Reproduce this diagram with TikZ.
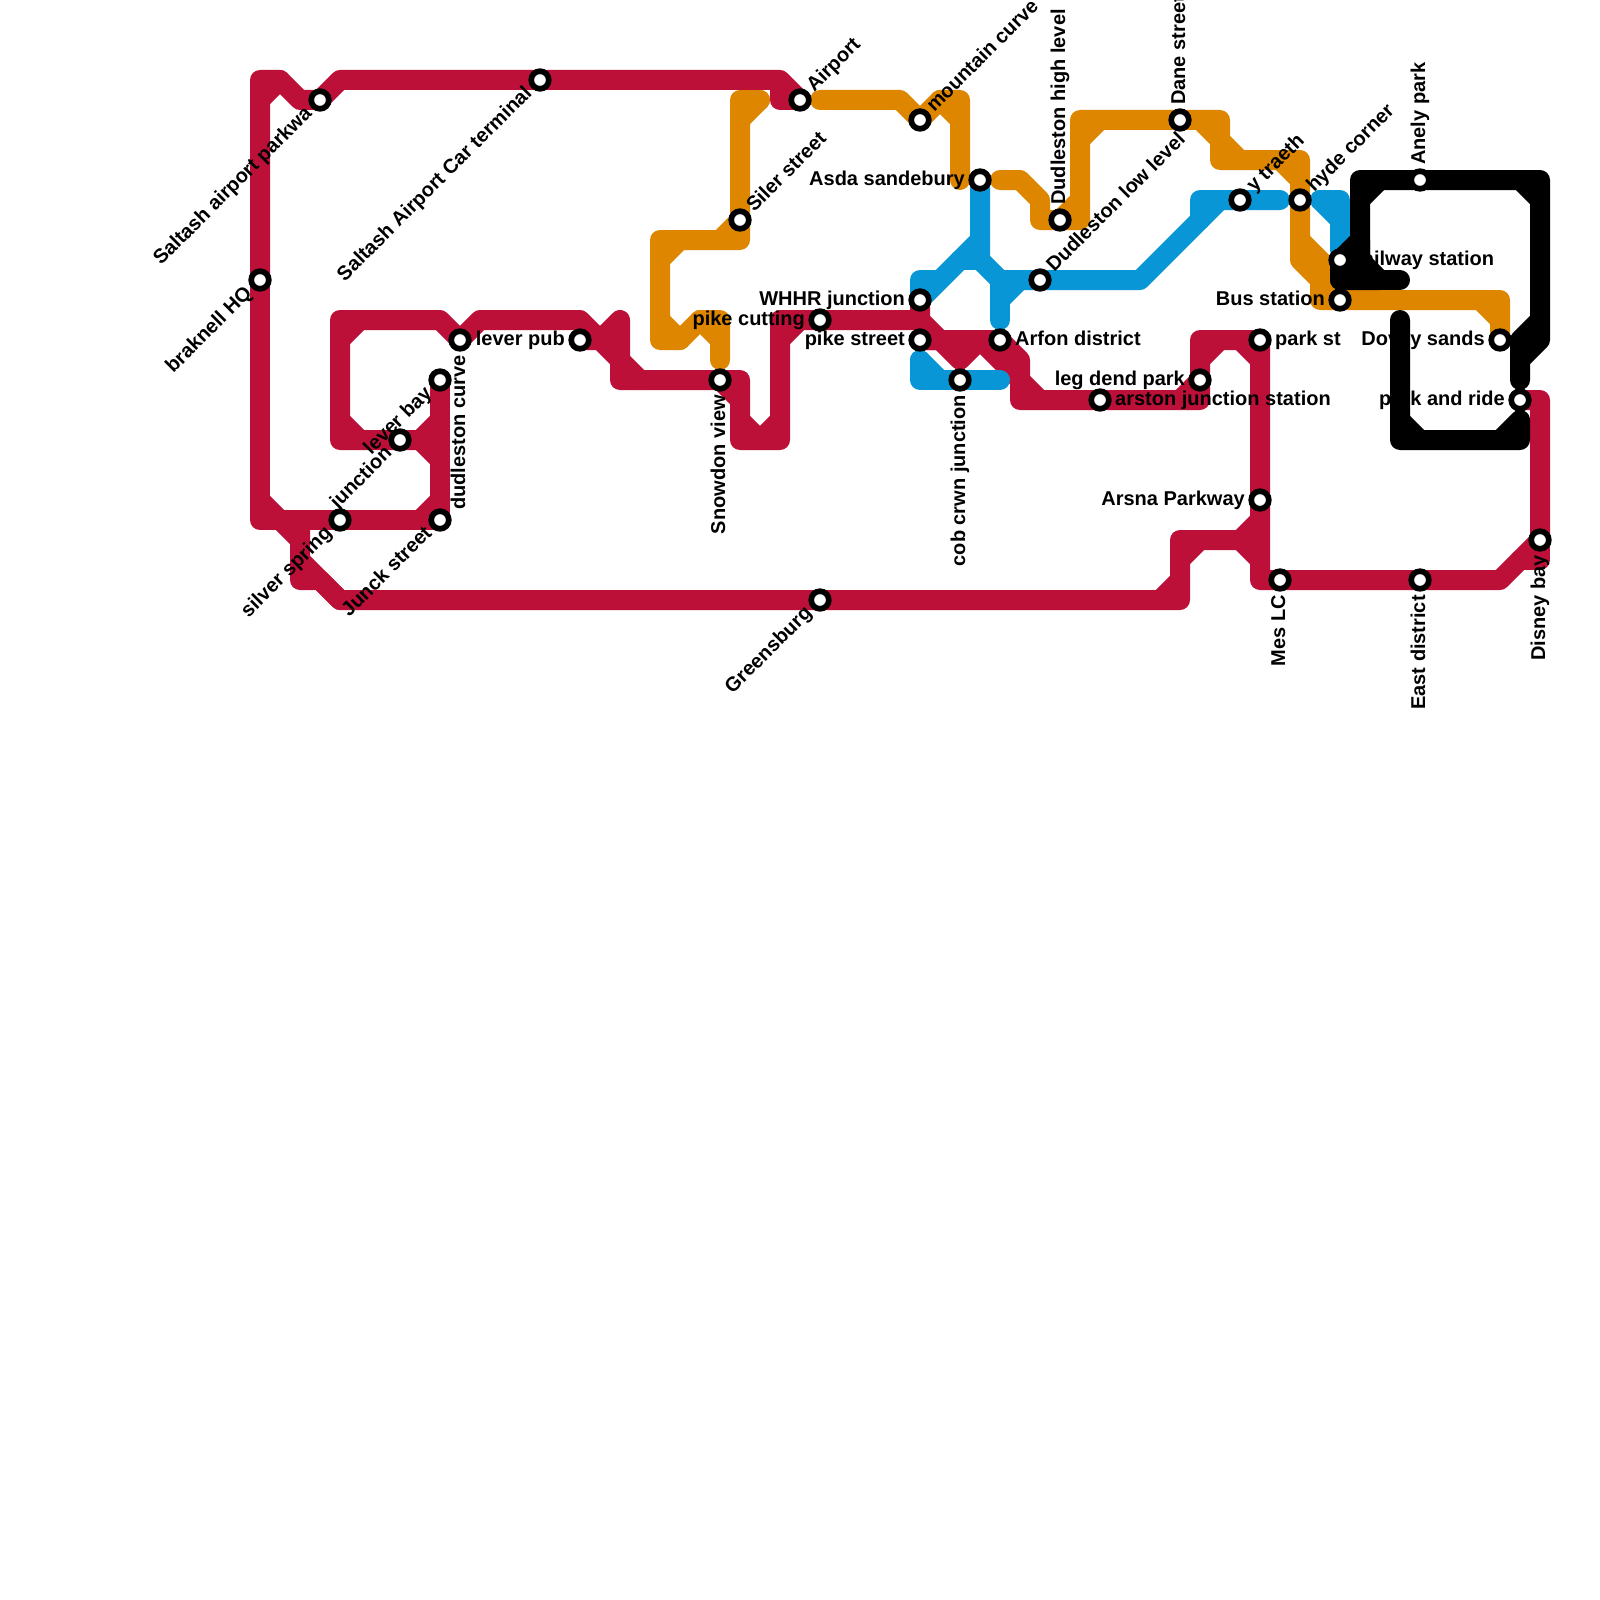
\documentclass[tikz,border=0pt]{standalone}
\usepackage{fontspec}
\setmainfont{Liberation Sans}
\usetikzlibrary{calc}
\definecolor{mred}{HTML}{BD1038}
\definecolor{morange}{HTML}{DF8600}
\definecolor{mblue}{HTML}{0896D7}
\pgfdeclarelayer{fg}
\pgfdeclarelayer{txt}
\pgfsetlayers{main,fg,txt}
\tikzset{
  metro/.style={line width=20pt,line cap=round,line join=round},
  redline/.style={metro,draw=mred},
  orangeline/.style={metro,draw=morange},
  blueline/.style={metro,draw=mblue},
  blackline/.style={metro,draw=black},
  station/.style={circle,draw=black,fill=white,line width=5.7pt,minimum size=17.6pt,inner sep=0pt},
  lbl/.style={font=\fontsize{20}{22}\selectfont\bfseries,inner sep=0pt,text=black}
}
% name, x, y, angle, text : label after the station / before the station
\newcommand{\stA}[5]{%
  \begin{pgfonlayer}{fg}\node[station] (#1) at (#2,#3) {};\end{pgfonlayer}%
  \begin{pgfonlayer}{txt}\node[lbl,rotate=#4,anchor=base west] (l#1) at ($(#1.center)+(#4:15pt)+(#4-90:5pt)$) {#5};\end{pgfonlayer}}
\newcommand{\stB}[5]{%
  \begin{pgfonlayer}{fg}\node[station] (#1) at (#2,#3) {};\end{pgfonlayer}%
  \begin{pgfonlayer}{txt}\node[lbl,rotate=#4,anchor=base east] (l#1) at ($(#1.center)+(#4:-15pt)+(#4-90:5pt)$) {#5};\end{pgfonlayer}}
\begin{document}
\begin{tikzpicture}[x=1pt,y=-1pt]
\fill[white] (0,0) rectangle (1600,1600);
\useasboundingbox (0,0) rectangle (1600,1600);
% stations
\stB{sap}{320}{100}{45}{Saltash airport parkwa}
\stB{sact}{540}{80}{45}{Saltash Airport Car terminal}
\stB{brak}{260}{280}{45}{braknell HQ}
\stB{silv}{340}{520}{45}{silver spring}
\stB{lbay}{440}{380}{45}{lever bay}
\stB{junc}{400}{440}{45}{junction}
\stB{junk}{440}{520}{45}{Junck street}
\stB{dcur}{460}{340}{90}{dudleston curve}
\stB{lpub}{580}{340}{0}{lever pub}
\stB{snow}{720}{380}{90}{Snowdon view}
\stA{sile}{740}{220}{45}{Siler street}
\stA{airp}{800}{100}{45}{Airport}
\stA{moun}{920}{120}{45}{mountain curve}
\stB{gree}{820}{600}{45}{Greensburg}
\stB{pcut}{820}{320}{0}{pike cutting}
\stB{whhr}{920}{300}{0}{WHHR junction}
\stB{pstr}{920}{340}{0}{pike street}
\stB{cobc}{960}{380}{90}{cob crwn junction}
\stB{asda}{980}{180}{0}{Asda sandebury}
\stA{dhig}{1060}{220}{90}{Dudleston high level}
\stA{dlow}{1040}{280}{45}{Dudleston low level}
\stA{arfo}{1000}{340}{0}{Arfon district}
\stA{dane}{1180}{120}{90}{Dane street}
\stB{legd}{1200}{380}{0}{leg dend park}
\stA{arst}{1100}{400}{0}{arston junction station}
\stA{ytra}{1240}{200}{45}{y traeth}
\stA{hyde}{1300}{200}{45}{hyde corner}
\stA{anel}{1420}{180}{90}{Anely park}
\stA{rail}{1340}{260}{0}{railway station}
\stB{buss}{1340}{300}{0}{Bus station}
\stA{pkst}{1260}{340}{0}{park st}
\stB{arsn}{1260}{500}{0}{Arsna Parkway}
\stB{mesl}{1280}{580}{90}{Mes LC}
\stB{east}{1420}{580}{90}{East district}
\stB{dovy}{1500}{340}{0}{Dovey sands}
\stB{prid}{1520}{400}{0}{park and ride}
\stB{disn}{1540}{540}{90}{Disney bay}
% orange
\draw[orangeline] (760,100) -- (740,100) -- (sile.center) -- (740,240) -- (660,240) -- (660,340) -- (680,340) -- (700,320) -- (720,320) -- (720,360);
\draw[orangeline] (740,120) -- (760,100);
\draw[orangeline] (720,240) -- (sile.center);
\draw[orangeline] (660,260) -- (680,240);
\draw[orangeline] (660,320) -- (680,340);
\draw[orangeline] (700,320) -- (720,340);
\draw[orangeline] (820,100) -- (900,100) -- (moun.center) -- (940,100) -- (960,100) -- (960,180);
\draw[orangeline] (940,100) -- (960,120);
\draw[orangeline] (1000,180) -- (1020,180) -- (1040,200) -- (1040,220) -- (dhig.center) -- (1080,220) -- (1080,120) -- (dane.center) -- (1220,120) -- (1220,160) -- (1300,160) -- (hyde.center) -- (1300,260) -- (1320,280) -- (1320,300) -- (buss.center) -- (1500,300) -- (dovy.center);
\draw[orangeline] (1060,220) -- (1080,200);
\draw[orangeline] (1080,140) -- (1100,120);
\draw[orangeline] (1200,120) -- (1240,160);
\draw[orangeline] (1280,160) -- (1300,180);
\draw[orangeline] (1300,240) -- (1340,280) -- (1340,300);
\draw[orangeline] (1480,300) -- (1500,320);
% red
\draw[redline] (260,100) -- (280,80);
\draw[redline] (brak.center) -- (260,80) -- (280,80) -- (300,100) -- (sap.center) -- (340,80) -- (sact.center) -- (780,80) -- (airp.center) -- (780,100) -- (780,80);
\draw[redline] (brak.center) -- (260,520) -- (silv.center) -- (junk.center) -- (lbay.center);
\draw[redline] (260,500) -- (280,520) -- (300,540);
\draw[redline] (420,520) -- (440,500);
\draw[redline] (300,520) -- (300,580) -- (320,580) -- (340,600) -- (gree.center) -- (1180,600) -- (1180,540) -- (1240,540) -- (1260,520);
\draw[redline] (300,560) -- (340,600);
\draw[redline] (1160,600) -- (1180,580);
\draw[redline] (1180,560) -- (1200,540);
\draw[redline] (1240,540) -- (1260,560);
\draw[redline] (pkst.center) -- (arsn.center) -- (1260,580) -- (mesl.center) -- (east.center) -- (1500,580) -- (disn.center) -- (1540,400) -- (prid.center);
\draw[redline] (disn.center) -- (1540,560) -- (1520,560);
\draw[redline] (pkst.center) -- (1200,340) -- (1200,400) -- (arst.center) -- (1020,400) -- (1020,360) -- (arfo.center) -- (pstr.center);
\draw[redline] (1200,360) -- (1220,340);
\draw[redline] (1240,340) -- (1260,360);
\draw[redline] (1180,400) -- (legd.center);
\draw[redline] (1020,380) -- (1040,400);
\draw[redline] (980,340) -- (1020,380);
\draw[redline] (940,340) -- (960,360) -- (980,340);
\draw[redline] (pstr.center) -- (940,340) -- (920,320) -- (whhr.center) -- (920,320) -- (pcut.center) -- (780,320) -- (780,440) -- (740,440) -- (740,380) -- (snow.center) -- (620,380) -- (620,320) -- (600,340) -- (580,320) -- (480,320) -- (dcur.center) -- (440,320) -- (340,320) -- (340,440) -- (junc.center) -- (440,440);
\draw[redline] (780,340) -- (800,320);
\draw[redline] (740,420) -- (760,440) -- (780,420);
\draw[redline] (720,380) -- (740,400);
\draw[redline] (lpub.center) -- (600,340) -- (640,380);
\draw[redline] (340,340) -- (360,320);
\draw[redline] (340,420) -- (360,440);
\draw[redline] (420,440) -- (440,420);
\draw[redline] (420,440) -- (440,460);
% blue
\draw[blueline] (asda.center) -- (980,260) -- (1000,280) -- (dlow.center) -- (1140,280) -- (1200,220) -- (1200,200) -- (ytra.center) -- (1280,200);
\draw[blueline] (980,240) -- (whhr.center) -- (920,280) -- (940,280);
\draw[blueline] (960,260) -- (980,260);
\draw[blueline] (1000,280) -- (1000,320);
\draw[blueline] (1000,300) -- (1020,280);
\draw[blueline] (1200,220) -- (1220,200);
\draw[blueline] (920,360) -- (920,380) -- (cobc.center) -- (1000,380);
\draw[blueline] (920,360) -- (940,380);
\draw[blueline] (1320,200) -- (1340,200) -- (1340,250);
\draw[blueline] (1320,200) -- (1340,220);
% black
\draw[blackline] (1360,260) -- (1360,180) -- (anel.center) -- (1540,180) -- (1540,340) -- (1520,360) -- (1520,380);
\draw[blackline] (1360,200) -- (1380,180);
\draw[blackline] (1520,180) -- (1540,200);
\draw[blackline] (1540,320) -- (1520,340) -- (1520,360);
\draw[blackline,fill=black] (rail.center) -- (1360,240) -- (1360,260) -- (1380,280) -- (1340,280) -- cycle;
\draw[blackline] (1340,280) -- (1400,280);
\draw[blackline] (1400,320) -- (1400,440) -- (1520,440) -- (1520,420) -- (1500,440);
\draw[blackline] (1400,420) -- (1420,440);
\end{tikzpicture}
\end{document}
